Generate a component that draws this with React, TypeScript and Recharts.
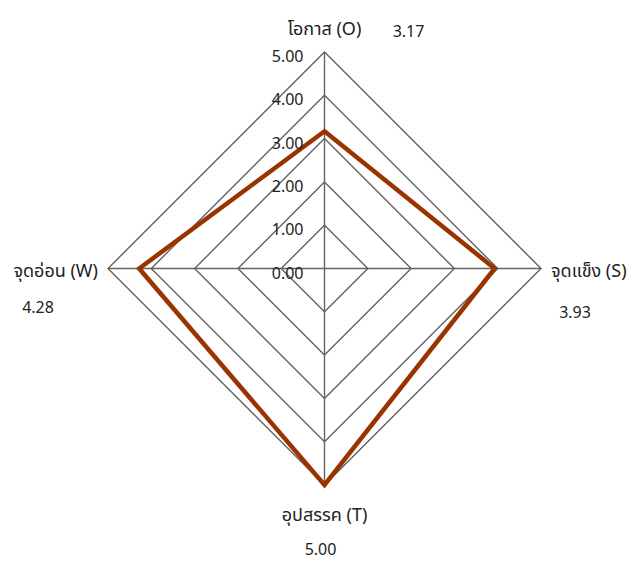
import React from 'react';
import { RadarChart, Radar, PolarGrid, PolarAngleAxis, PolarRadiusAxis } from 'recharts';

const categories = ['โอกาส (O)', 'จุดแข็ง (S)', 'อุปสรรค (T)', 'จุดอ่อน (W)'];
const scores = [3.17, 3.93, 5.0, 4.28];
const radiusTicks = [0, 1, 2, 3, 4, 5];

const data = categories.map((c, i) => ({ name: c, value: scores[i] }));

const FONT = "'Noto Sans', 'Noto Sans Thai', Tahoma, sans-serif";

const nameOffsets = [
  { dx: 0, dy: -16, anchor: 'middle' },
  { dx: 2, dy: 1, anchor: 'start' },
  { dx: 0, dy: 21, anchor: 'middle' },
  { dx: -2, dy: 1, anchor: 'end' },
];
const valueOffsets = [
  { dx: 84, dy: -13 },
  { dx: 26, dy: 43 },
  { dx: -4, dy: 56 },
  { dx: -62, dy: 38 },
];

const AngleTick = (props: any) => {
  const { x, y, payload } = props;
  const i = payload.index;
  const n = nameOffsets[i];
  const v = valueOffsets[i];
  return (
    <g>
      <text x={x + n.dx} y={y + n.dy} textAnchor={n.anchor} dominantBaseline="central" fontSize={18} fill="#222" fontFamily={FONT}>
        {categories[i]}
      </text>
      <text x={x + v.dx} y={y + v.dy} textAnchor="middle" dominantBaseline="central" fontSize={16} fill="#222" fontFamily={FONT}>
        {scores[i].toFixed(2)}
      </text>
    </g>
  );
};

const RadiusTick = (props: any) => {
  const { x, y, payload } = props;
  return (
    <text x={x - 21} y={y + 4} textAnchor="end" dominantBaseline="central" fontSize={16} fill="#222" fontFamily={FONT}>
      {Number(payload.value).toFixed(2)}
    </text>
  );
};

export default function App() {
  return (
    <div style={{ position: 'absolute', left: 0, top: 0, width: 627, height: 561, background: '#fff' }}>
      <RadarChart
        width={627}
        height={561}
        data={data}
        cx={324.5}
        cy={268.5}
        outerRadius={216.5}
        startAngle={90}
        endAngle={-270}
        margin={{ top: 0, right: 0, bottom: 0, left: 0 }}
      >
        <PolarGrid gridType="polygon" stroke="#636363" strokeWidth={1.4} polarRadius={radiusTicks.map((t) => (t * 216.5) / 5)} />
        <PolarAngleAxis dataKey="name" tick={<AngleTick />} tickLine={false} axisLine={false} />
        <PolarRadiusAxis
          angle={90}
          domain={[0, 5]}
          ticks={radiusTicks as any}
          tickCount={6}
          axisLine={false}
          tick={<RadiusTick />}
        />
        <Radar dataKey="value" stroke="#993300" strokeWidth={4.5} fill="none" fillOpacity={0} isAnimationActive={false} dot={false} />
      </RadarChart>
    </div>
  );
}
